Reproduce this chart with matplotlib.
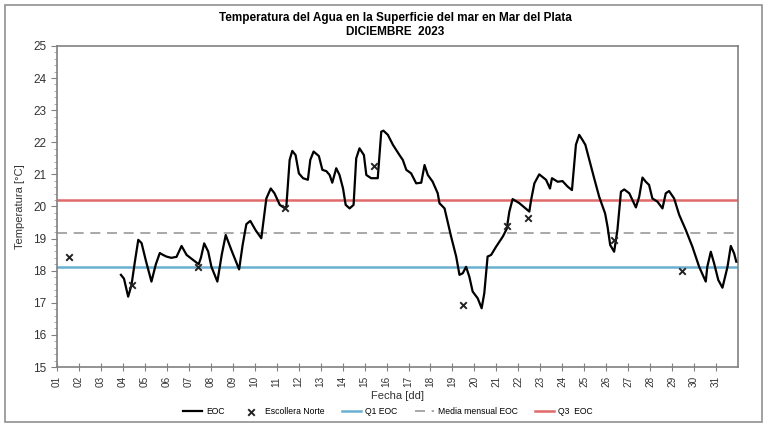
import numpy as np
import matplotlib
matplotlib.use("Agg")
import matplotlib.pyplot as plt
from matplotlib.patches import Rectangle
from matplotlib.ticker import MultipleLocator

plt.rcParams['font.family'] = ['Liberation Sans', 'DejaVu Sans']

# EOC serie (dia del mes, temperatura)
eoc_dia = [3.91, 4.05, 4.24, 4.39, 4.55, 4.7, 4.85, 5.05, 5.3, 5.5, 5.68, 5.83, 5.98, 6.2, 6.44,
           6.67, 6.9, 7.2, 7.45, 7.55, 7.7, 7.88, 8.03, 8.3, 8.5, 8.68, 8.94, 9.29, 9.45, 9.62,
           9.8, 10.05, 10.3, 10.53, 10.73, 10.9, 11.14, 11.38, 11.44, 11.59, 11.71, 11.86, 12.01,
           12.2, 12.42, 12.53, 12.68, 12.92, 13.08, 13.26, 13.41, 13.53, 13.71, 13.86, 14.02,
           14.14, 14.32, 14.5, 14.62, 14.77, 14.97, 15.08, 15.3, 15.6, 15.76, 15.86, 16.06,
           16.29, 16.59, 16.74, 16.9, 17.12, 17.35, 17.58, 17.73, 17.88, 18.1, 18.33, 18.41,
           18.64, 18.94, 19.17, 19.32, 19.47, 19.62, 19.77, 19.92, 20.15, 20.33, 20.45, 20.6,
           20.76, 20.99, 21.29, 21.47, 21.59, 21.74, 22.05, 22.5, 22.58, 22.73, 22.95, 23.26,
           23.44, 23.53, 23.79, 24.01, 24.24, 24.44, 24.62, 24.77, 24.92, 25.05, 25.23, 25.45,
           25.68, 25.95, 26.06, 26.18, 26.36, 26.51, 26.67, 26.82, 27.05, 27.35, 27.5, 27.65,
           27.8, 27.95, 28.1, 28.33, 28.56, 28.71, 28.86, 29.09, 29.32, 29.62, 29.92, 30.23,
           30.53, 30.6, 30.76, 30.91, 31.1, 31.29, 31.52, 31.67, 31.82, 31.92]
eoc_temp = [17.87, 17.75, 17.19, 17.55, 18.3, 18.96, 18.86, 18.3, 17.66, 18.2, 18.55, 18.49, 18.44,
            18.4, 18.43, 18.77, 18.49, 18.33, 18.2, 18.4, 18.85, 18.6, 18.12, 17.66, 18.5, 19.11,
            18.64, 18.04, 18.8, 19.45, 19.55, 19.25, 19.01, 20.25, 20.56, 20.41, 20.05, 19.94,
            20.0, 21.45, 21.73, 21.6, 21.03, 20.88, 20.83, 21.45, 21.71, 21.57, 21.14, 21.1,
            20.98, 20.74, 21.19, 20.98, 20.56, 20.05, 19.94, 20.05, 21.5, 21.81, 21.6, 20.98,
            20.88, 20.88, 22.33, 22.36, 22.23, 21.92, 21.6, 21.45, 21.14, 21.03, 20.72, 20.74,
            21.29, 20.98, 20.77, 20.41, 20.1, 19.94, 19.06, 18.44, 17.87, 17.92, 18.12, 17.81,
            17.35, 17.14, 16.83, 17.3, 18.44, 18.49, 18.75, 19.06, 19.3, 19.84, 20.23, 20.1,
            19.84, 20.2, 20.72, 21.0, 20.83, 20.56, 20.88, 20.77, 20.79, 20.62, 20.51, 21.92,
            22.23, 22.07, 21.92, 21.45, 20.88, 20.3, 19.78, 19.37, 18.8, 18.59, 19.27, 20.46,
            20.53, 20.41, 19.97, 20.3, 20.9, 20.77, 20.67, 20.25, 20.15, 19.94, 20.41, 20.48,
            20.25, 19.74, 19.27, 18.75, 18.12, 17.66, 18.12, 18.59, 18.23, 17.71, 17.47, 18.12,
            18.77, 18.54, 18.28]

# Escollera Norte
esc_dia = [1.56, 4.4, 7.42, 11.38, 15.42, 19.47, 21.47, 22.45, 26.36, 29.44]
esc_temp = [18.44, 17.55, 18.1, 19.94, 21.26, 16.93, 19.39, 19.63, 18.96, 17.99]

q1 = 18.13
media = 19.16
q3 = 20.2

dias = list(range(1, 32))
etiquetas = ["%02d" % d for d in dias]

fig = plt.figure(figsize=(7.68, 4.29), dpi=100)
ax = fig.add_axes([0.0742, 0.1445, 0.8868, 0.7485])

ax.axhline(q1, color="#6aaed0", lw=1.8, label="Q1 EOC", zorder=1)
ax.axhline(media, color="#999999", lw=1.2, ls=(0, (6, 4)), label="Media mensual EOC", zorder=1)
ax.axhline(q3, color="#e06a6a", lw=1.8, label="Q3  EOC", zorder=1)
ax.plot(eoc_dia, eoc_temp, color="black", lw=1.6, label="EOC", zorder=3,
        solid_joinstyle="round")
ax.scatter(esc_dia, esc_temp, marker="x", color="#222222", s=22, lw=1.4,
           label="Escollera Norte", zorder=4)

ax.set_xlim(1, 32)
ax.set_ylim(15, 25)
ax.set_xticks(dias)
ax.set_xticklabels(etiquetas, rotation=90, fontsize=7.2, color="#333333")
ax.yaxis.set_major_locator(MultipleLocator(1))
ax.yaxis.set_minor_locator(MultipleLocator(0.2))
ax.tick_params(axis="y", which="major", labelsize=8.5, colors="#808080", labelcolor="#333333",
               length=4)
ax.tick_params(axis="y", which="minor", colors="#a0a0a0", length=2)
ax.tick_params(axis="x", direction="inout", length=6, colors="#808080", labelcolor="#333333")
for s in ax.spines.values():
    s.set_color("#808080")
    s.set_linewidth(1.2)

ax.set_ylabel("Temperatura [°C]", fontsize=8, color="#333333", labelpad=6)
ax.set_xlabel("Fecha [dd]", fontsize=8, color="#333333", labelpad=3)

fig.text(0.515, 0.957, "Temperatura del Agua en la Superficie del mar en Mar del Plata",
         ha="center", va="center", fontsize=8.5, fontweight="bold")
fig.text(0.515, 0.926, "DICIEMBRE  2023", ha="center", va="center", fontsize=8.5,
         fontweight="bold")

h, l = ax.get_legend_handles_labels()
orden = [l.index(n) for n in ["EOC", "Escollera Norte", "Q1 EOC", "Media mensual EOC", "Q3  EOC"]]
fig.legend([h[i] for i in orden], [l[i] for i in orden], loc="center", ncol=5,
           bbox_to_anchor=(0.505, 0.041), frameon=False, fontsize=6.2, handlelength=2.2,
           columnspacing=2.0, handletextpad=0.5)

fig.patches.append(Rectangle((0.006, 0.016), 0.986, 0.972, transform=fig.transFigure,
                             fill=False, edgecolor="#909090", lw=1.2))

fig.savefig("out.png", dpi=100)
